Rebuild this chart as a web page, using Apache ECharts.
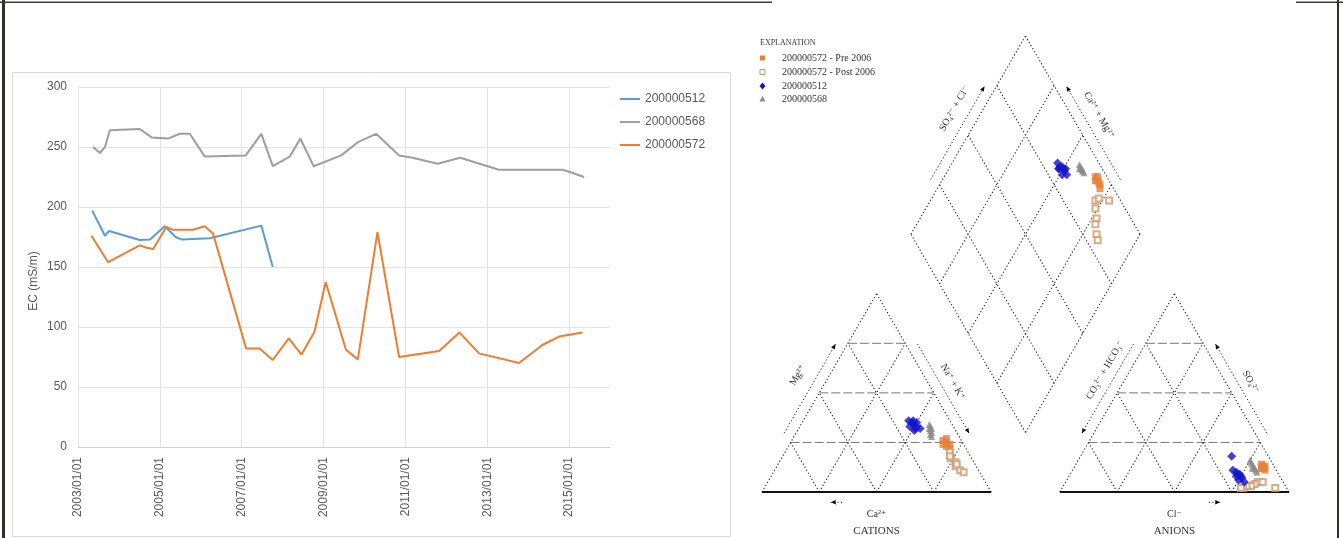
<!DOCTYPE html>
<html><head><meta charset="utf-8">
<script src="https://cdn.jsdelivr.net/npm/echarts@6/dist/echarts.min.js"></script>
<style>html,body{margin:0;padding:0;background:#fff}#c{width:1343px;height:538px}</style>
</head><body><div id="c"></div>
<script>
// ---------------- EC time series (left panel) ----------------
const seriesNames = ['200000512', '200000568', '200000572'];
const seriesColors = ['#5B9BD5', '#9E9E9E', '#ED7D31'];

const dates512 = ['2003-05-08','2003-08-30','2003-10-05','2004-07-05','2004-10-05','2005-02-14','2005-05-22','2005-07-13','2006-03-22','2007-06-25','2007-10-05'];
const ec512 = [197, 176, 180, 172.5, 173, 184, 175, 173, 174, 184.5, 150];

const dates568 = ['2003-05-15','2003-07-15','2003-08-30','2003-10-12','2004-07-05','2004-10-20','2005-03-15','2005-06-28','2005-09-25','2006-02-06','2007-02-06','2007-06-25','2007-10-05','2008-03-05','2008-06-08','2008-10-05','2009-06-08','2009-11-03','2010-04-15','2010-11-06','2011-03-07','2011-10-15','2012-05-05','2013-04-15','2014-11-03','2015-01-15','2015-05-15'];
const ec568 = [250, 245, 250, 264, 265, 258, 257, 261, 261, 242, 243, 261, 234, 242, 257, 234, 243, 254, 261, 243, 241, 236, 241, 231, 231, 229, 225];

const dates572 = ['2003-05-01','2003-09-27','2004-07-05','2004-09-05','2004-11-03','2005-03-01','2005-04-27','2005-10-23','2006-02-06','2006-04-20','2007-02-10','2007-06-10','2007-10-05','2008-02-25','2008-06-18','2008-10-12','2009-01-20','2009-07-20','2009-11-03','2010-04-27','2010-11-06','2011-10-30','2012-04-27','2012-10-20','2013-10-12','2014-05-08','2014-10-05','2015-05-01'];
const ec572 = [176, 154, 168, 166, 165, 183.5, 181, 181, 184, 178, 82, 82, 72.5, 90.5, 77, 96, 137.5, 81, 73, 179, 75, 80, 95.5, 78, 70, 85, 92, 95.5];

const xTickLabels = ['2003/01/01','2005/01/01','2007/01/01','2009/01/01','2011/01/01','2013/01/01','2015/01/01'];
const baseYear = 2003;

// ---------------- Piper diagram (right panel) ----------------
const piperGroups = ['200000572 - Pre 2006', '200000572 - Post 2006', '200000512', '200000568'];
// cations (% meq): Ca, Mg, Na+K ; anions: Cl, SO4 (HCO3+CO3 = remainder)
const caPre  = [7, 8, 6, 7, 8, 6, 9];
const mgPre  = [25, 23, 24, 22, 26, 27, 24];
const naPre  = [68, 69, 70, 71, 66, 67, 67];
const clPre  = [82, 83, 84, 82, 81, 83, 82];
const so4Pre = [13, 12, 11, 12, 14, 13, 12];

const caPost  = [8, 9, 8, 9, 8, 7, 9, 8];
const mgPost  = [20, 17, 15, 13, 11, 10, 18, 14];
const naPost  = [72, 74, 77, 78, 81, 83, 73, 78];
const clPost  = [84, 83, 82, 80, 79, 78, 86, 93];
const so4Post = [5, 4, 3, 3, 2, 2, 5, 2];

const ca512  = [17, 16, 18, 15, 17, 19, 16, 18, 15, 17];
const mg512  = [35, 33, 36, 32, 34, 33, 36, 31, 35, 32];
const na512  = [48, 51, 46, 53, 49, 48, 48, 51, 50, 51];
const cl512  = [73, 75, 72, 76, 74, 70, 75, 66, 78, 73];
const so4512 = [9, 8, 10, 7, 9, 11, 6, 18, 5, 8];

const ca568  = [10, 11, 12, 10, 11, 12, 10, 11];
const mg568  = [33, 31, 29, 32, 30, 28, 34, 32];
const na568  = [57, 58, 59, 58, 59, 60, 56, 57];
const cl568  = [76, 78, 80, 77, 79, 81, 75, 78];
const so4568 = [15, 13, 11, 14, 12, 10, 16, 12];

// ---------------- helpers ----------------
function yearOffset(s) {
  const p = s.split('-').map(Number);
  const t = Date.UTC(p[0], p[1] - 1, p[2]);
  const y0 = Date.UTC(p[0], 0, 1), y1 = Date.UTC(p[0] + 1, 0, 1);
  return (p[0] - baseYear) + (t - y0) / (y1 - y0);
}
function pairs(dates, vals) { return dates.map((d, i) => [yearOffset(d), vals[i]]); }

const H = Math.sqrt(3) / 2, L = 100, G = 30;
function cat(na, mg) { return [na + mg / 2, mg * H]; }
function ani(cl, so4) { return [L + G + cl + so4 / 2, so4 * H]; }
function dia(cm, sc) { return [L + G / 2 + 0.5 * (sc - cm), G * H + H * (sc + cm)]; }
function buildPiper(ca, mg, na, cl, so4) {
  const pts = [];
  for (let i = 0; i < ca.length; i++) {
    pts.push(cat(na[i], mg[i]));
    pts.push(ani(cl[i], so4[i]));
    pts.push(dia(ca[i] + mg[i], cl[i] + so4[i]));
  }
  return pts;
}

const chart = echarts.init(document.getElementById('c'), null, { renderer: 'canvas' });

const dotted = { stroke: '#2a2a2a', lineWidth: 1.1, lineDash: [1.3, 2.2], fill: null };
const dashed = { stroke: '#777', lineWidth: 1, lineDash: [9, 3], fill: null };
const solid = { stroke: '#111', lineWidth: 2, fill: null };
const FONT = '"Liberation Serif", "DejaVu Serif", serif';

function renderFrame(params, api) {
  const c = p => api.coord(p);
  const els = [];
  const seg = (a, b, style) => els.push({ type: 'polyline', shape: { points: [c(a), c(b)] }, style: style, silent: true });
  const off = (p, n, d) => [p[0] + n[0] * d, p[1] + n[1] * d];
  const arrowLine = (a, b, style) => {
    seg(a, b, style);
    const pa = c(a), pb = c(b);
    const ang = Math.atan2(pb[1] - pa[1], pb[0] - pa[0]);
    const s = 5, w = 2.2;
    const p1 = [pb[0] - s * Math.cos(ang) + w * Math.sin(ang), pb[1] - s * Math.sin(ang) - w * Math.cos(ang)];
    const p2 = [pb[0] - s * Math.cos(ang) - w * Math.sin(ang), pb[1] - s * Math.sin(ang) + w * Math.cos(ang)];
    els.push({ type: 'polygon', shape: { points: [pb, p1, p2] }, style: { fill: '#111' }, silent: true });
  };
  const label = (p, text, rot, size) => {
    const q = c(p);
    els.push({ type: 'text', x: q[0], y: q[1], rotation: rot, silent: true,
      style: { text: text, fill: '#333', fontSize: size || 10, fontFamily: FONT, align: 'center', verticalAlign: 'middle' } });
  };
  const steps = [25, 50, 75];
  // cation triangle
  seg(cat(0, 0), cat(0, 100), dotted);
  seg(cat(100, 0), cat(0, 100), dotted);
  steps.forEach(k => {
    seg(cat(0, k), cat(100 - k, k), dashed);
    seg(cat(k, 0), cat(k, 100 - k), dotted);
    seg(cat(100 - k, 0), cat(0, 100 - k), dotted);
  });
  seg(cat(0, 0), cat(100, 0), solid);
  // anion triangle
  seg(ani(0, 0), ani(0, 100), dotted);
  seg(ani(100, 0), ani(0, 100), dotted);
  steps.forEach(k => {
    seg(ani(0, k), ani(100 - k, k), dashed);
    seg(ani(k, 0), ani(k, 100 - k), dotted);
    seg(ani(100 - k, 0), ani(0, 100 - k), dotted);
  });
  seg(ani(0, 0), ani(100, 0), solid);
  // diamond
  seg(dia(0, 0), dia(100, 0), dotted);
  seg(dia(100, 0), dia(100, 100), dotted);
  seg(dia(100, 100), dia(0, 100), dotted);
  seg(dia(0, 100), dia(0, 0), dotted);
  steps.forEach(k => {
    seg(dia(k, 0), dia(k, 100), dotted);
    seg(dia(0, k), dia(100, k), dotted);
  });
  const nL = [-H, 0.5], nR = [H, 0.5];
  const ax = { stroke: '#2a2a2a', lineWidth: 1, lineDash: [1.3, 2.2], fill: null };
  // cation axis annotations
  arrowLine(off(cat(0, 27), nL, 4.5), off(cat(0, 72), nL, 4.5), ax);
  arrowLine(off(cat(28, 72), nR, 4.5), off(cat(73, 27), nR, 4.5), ax);
  arrowLine([35, -4.5], [30, -4.5], ax);
  label(off(cat(0, 52), nL, 12), 'Mg\u00b2\u207a', Math.PI / 3);
  label(off(cat(50, 50), nR, 9.5), 'Na\u207a + K\u207a', -Math.PI / 3);
  label([50, -9.9], 'Ca\u00b2\u207a', 0);
  label([50, -16.9], 'CATIONS', 0, 11);
  // anion axis annotations
  arrowLine(off(ani(0, 72), nL, 4.5), off(ani(0, 27), nL, 4.5), ax);
  arrowLine(off(ani(73, 27), nR, 4.5), off(ani(28, 72), nR, 4.5), ax);
  arrowLine([L + G + 65, -4.5], [L + G + 70, -4.5], ax);
  label(off(ani(0, 56), nL, 9.5), 'CO\u2083\u00b2\u207b + HCO\u2083\u207b', Math.PI / 3);
  label(off(ani(50, 50), nR, 9.5), 'SO\u2084\u00b2\u207b', -Math.PI / 3);
  label([L + G + 50, -9.9], 'Cl\u207b', 0);
  label([L + G + 50, -16.9], 'ANIONS', 0, 11);
  // diamond axis annotations
  arrowLine(off(dia(100, 25), nL, 4.5), off(dia(100, 72), nL, 4.5), ax);
  arrowLine(off(dia(25, 100), nR, 4.5), off(dia(72, 100), nR, 4.5), ax);
  label(off(dia(100, 57), nL, 11), 'SO\u2084\u00b2\u207b + Cl\u207b', Math.PI / 3);
  label(off(dia(54, 100), nR, 10.5), 'Ca\u00b2\u207a + Mg\u00b2\u207a', -Math.PI / 3);
  return { type: 'group', children: els };
}

const lineData = [pairs(dates512, ec512), pairs(dates568, ec568), pairs(dates572, ec572)];

const piperSeriesDefs = [
  { name: piperGroups[0], data: buildPiper(caPre, mgPre, naPre, clPre, so4Pre), symbol: 'rect', size: 7, color: '#E8803A' },
  { name: piperGroups[1], data: buildPiper(caPost, mgPost, naPost, clPost, so4Post), symbol: 'emptyRect', size: 6, color: '#C99A6E' },
  { name: piperGroups[3], data: buildPiper(ca568, mg568, na568, cl568, so4568), symbol: 'triangle', size: 7, color: '#8A8A8A' },
  { name: piperGroups[2], data: buildPiper(ca512, mg512, na512, cl512, so4512), symbol: 'diamond', size: 9, color: '#1414C8' }
];

const legendGraphic = [];
legendGraphic.push({ type: 'text', x: 760, y: 43, style: { text: 'EXPLANATION', fill: '#333', fontSize: 8, fontFamily: FONT, verticalAlign: 'middle' } });
const legYs = [58, 72, 86, 99];
legendGraphic.push({ type: 'rect', shape: { x: 760, y: legYs[0] - 2.5, width: 5, height: 5 }, style: { fill: '#E8803A' } });
legendGraphic.push({ type: 'rect', shape: { x: 760, y: legYs[1] - 2.5, width: 5, height: 5 }, style: { fill: '#fff', stroke: '#C99A6E', lineWidth: 1 } });
legendGraphic.push({ type: 'polygon', shape: { points: [[762.5, legYs[2] - 3.5], [765.5, legYs[2]], [762.5, legYs[2] + 3.5], [759.5, legYs[2]]] }, style: { fill: '#1414C8' } });
legendGraphic.push({ type: 'polygon', shape: { points: [[762.5, legYs[3] - 3], [765.5, legYs[3] + 2.5], [759.5, legYs[3] + 2.5]] }, style: { fill: '#8A8A8A' } });
piperGroups.forEach((n, i) => legendGraphic.push({ type: 'text', x: 782, y: legYs[i], style: { text: n, fill: '#333', fontSize: 10, fontFamily: FONT, verticalAlign: 'middle' } }));

const frameGraphic = [
  { type: 'rect', shape: { x: 2, y: 0, width: 3, height: 538 }, style: { fill: '#2f2f2a' } },
  { type: 'rect', shape: { x: 1337, y: 0, width: 2, height: 538 }, style: { fill: '#2f2f2a' } },
  { type: 'rect', shape: { x: 0, y: 1.5, width: 772, height: 1.5 }, style: { fill: '#3a3a3a' } },
  { type: 'rect', shape: { x: 1296, y: 1.5, width: 47, height: 1.5 }, style: { fill: '#3a3a3a' } },
  { type: 'rect', shape: { x: 12.5, y: 72.5, width: 718, height: 464 }, style: { fill: null, stroke: '#d9d9d9', lineWidth: 1 } }
];

const option = {
  animation: false,
  backgroundColor: '#fff',
  textStyle: { fontFamily: '"Liberation Sans", Arial, sans-serif' },
  graphic: frameGraphic.concat(legendGraphic),
  legend: [{
    data: seriesNames, orient: 'vertical', left: 615, top: 88,
    icon: 'rect', itemWidth: 20, itemHeight: 2, itemGap: 11,
    textStyle: { color: '#595959', fontSize: 12 }
  }],
  grid: [
    { left: 78, top: 87, width: 532, height: 360, containLabel: false, outerBoundsMode: 'none' },
    { left: 762, top: 36, width: 527, height: 456, containLabel: false, outerBoundsMode: 'none' }
  ],
  xAxis: [
    {
      type: 'value', gridIndex: 0, min: 0, max: 13, interval: 2,
      axisLine: { show: true, lineStyle: { color: '#d0d0d0', width: 1 } },
      axisTick: { show: false },
      splitLine: { show: true, showMaxLine: false, lineStyle: { color: '#e2e2e2' } },
      axisLabel: {
        rotate: 90, margin: 10, color: '#595959', fontSize: 12, showMaxLabel: false,
        formatter: v => (v % 2 === 0 && xTickLabels[v / 2]) ? xTickLabels[v / 2] : ''
      }
    },
    { type: 'value', gridIndex: 1, min: 0, max: 2 * L + G, show: false }
  ],
  yAxis: [
    {
      type: 'value', gridIndex: 0, min: 0, max: 300, interval: 50,
      axisLine: { show: false }, axisTick: { show: false },
      splitLine: { show: true, lineStyle: { color: '#e2e2e2' } },
      axisLabel: { color: '#595959', fontSize: 12, margin: 11 },
      name: 'EC (mS/m)', nameLocation: 'middle', nameGap: 38, nameRotate: 90,
      nameTextStyle: { color: '#595959', fontSize: 12, padding: [0, 28, 0, 0] }
    },
    { type: 'value', gridIndex: 1, min: 0, max: (2 * L + G) * H, show: false }
  ],
  series: seriesNames.map((n, i) => ({
    name: n, type: 'line', xAxisIndex: 0, yAxisIndex: 0,
    data: lineData[i], symbol: 'none', color: seriesColors[i],
    lineStyle: { width: 2, color: seriesColors[i] }
  })).concat([{
    type: 'custom', xAxisIndex: 1, yAxisIndex: 1, data: [[0, 0]],
    renderItem: renderFrame, silent: true, clip: false, z: 1
  }]).concat(piperSeriesDefs.map(d => ({
    name: d.name, type: 'scatter', xAxisIndex: 1, yAxisIndex: 1,
    data: d.data, symbol: d.symbol, symbolSize: d.size, z: 3,
    itemStyle: { color: d.color, borderWidth: d.symbol === 'emptyRect' ? 1 : 0 }
  })))
};
chart.setOption(option);
</script>
</body></html>
